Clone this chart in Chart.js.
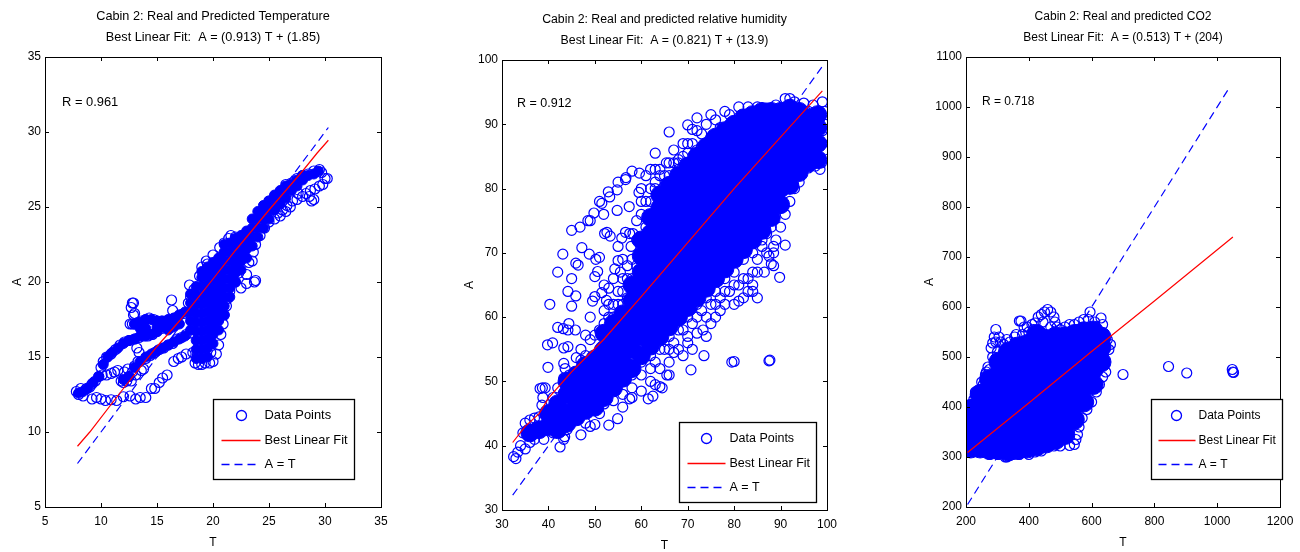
<!DOCTYPE html>
<html>
<head>
<meta charset="utf-8">
<script src="https://cdn.jsdelivr.net/npm/chart.js@4"></script>
<style>
html, body { margin: 0; background: #fff; overflow: hidden; width: 1300px; height: 552px; }
.panel { position: absolute; }
</style>
</head>
<body>
<div class="panel" style="left:0;top:0;width:426px;height:552px"><canvas id="tempChart"></canvas></div>
<div class="panel" style="left:440px;top:3px;width:449px;height:552px"><canvas id="humChart"></canvas></div>
<div class="panel" style="left:918px;top:0;width:410px;height:552px"><canvas id="co2Chart"></canvas></div>
<script>
const legendLabels = ['Data Points', 'Best Linear Fit', 'A = T'];

// Temperature panel
const tempTitle = ['Cabin 2: Real and Predicted Temperature', 'Best Linear Fit:  A = (0.913) T + (1.85)'];
const tempR = 'R = 0.961';
const tempXTicks = [5, 10, 15, 20, 25, 30, 35];
const tempYTicks = [5, 10, 15, 20, 25, 30, 35];
const tempFitLine = [[7.9, 9.05], [9, 10], [12, 12.9], [15, 15.7], [17, 17.4], [20, 20.2], [22, 22.1], [25, 24.8], [28, 27.4], [29.3, 28.6], [30.3, 29.45]];
const tempIdentity = [[7.9, 7.9], [30.3, 30.3]];
const tempOpen = [
  [7.8,12.7],[8,12.5],[8.2,12.9],[8.4,12.4],[8.7,12.9],[9,13],[9.2,13.2],[9.5,13.4],[9.8,13.7],[10.1,13.8],[10.5,13.8],[10.9,13.9],[11.2,14],[11.5,14.1],
  [9.2,12.2],[9.6,12.3],[10,12.2],[10.4,12.1],[10.9,12.15],[11.4,12.1],[12,12.35],[12.6,12.4],[13.1,12.2],[13.5,12.3],[14,12.3],[14.5,12.9],[14.8,12.9],[15.2,13.3],[15.5,13.6],[15.9,13.8],[16.5,14.7],[16.9,14.9],[17.2,15],[17.6,15.2],[18.2,15.3],
  [18.4,14.6],[18.7,14.5],[19,14.5],[19.3,14.6],[19.7,14.6],[20,14.7],[20.3,15.2],[18.6,15.1],[19.2,15.2],[19.8,15.3],
  [11.8,13.4],[12,13.3],[12.3,13.4],[12.5,13.7],[12.8,14],[13,14.4],[13.3,14.7],[13.6,14.1],[13.8,14.2],[14,14.9],[14.4,15.1],[14.8,15.3],[15.2,15.5],[15.6,15.6],[16,15.8],[16.4,15.9],[16.8,16.2],[17.2,16.3],[17.6,16.5],[18,16.6],
  [10,14.3],[10.2,14.7],[10.5,15],[10.9,15.2],[11.3,15.5],[11.7,15.8],[12.1,16],[12.5,16.1],[13,16.2],[13.4,16.3],[13.8,16.4],[14.2,16.4],[14.6,16.5],[15,16.7],[15.4,16.9],[15.8,17.1],[13.2,15.6],[13.4,15.3],
  [12.6,17.2],[12.8,17.2],[13,17.2],[13.3,17.3],[13.6,17.4],[14,17.5],[14.3,17.6],[14.7,17.5],[15,17.4],[15.4,17.4],[15.8,17.4],[16.2,17.5],[16.6,17.6],[17,17.8],[17.4,17.9],
  [12.8,18.6],[12.9,18.6],[12.7,18.3],[12.9,17.8],[13,17.9],[16.3,18.8],[16.4,18.1],
  [17.8,18.6],[18,19],[17.9,19.8],[18.3,19.5],[18.8,20.4],[19,21],[19.4,21.4],[19.5,21.2],[20,21.8],[20.6,22.3],[21,22.6],[21.4,22.9],[21.6,23.1],[22,23],
  [20.5,15.8],[20.7,16.5],[20.9,17.2],[21,17.8],[21.2,18.4],[21.3,18.9],[21.5,19.4],[22,20],[22.3,20.6],[22.5,19.6],[23,19.9],[23.7,20],[23.8,20.1],[23.5,21.4],[23.2,21.3],[23,20.5],[23.6,22],[23.8,22.5],
  [24.2,23.1],[24.6,23.6],[25,24],[25.5,24.2],[26,24.4],[26.5,24.7],[26.9,25],[25,25.4],[25.5,25.7],[26,26],[26.5,26.5],[27,26.6],[27.5,26.9],[28,27.1],[28.5,27.2],[29,27.4],[29.5,27.5],[29.7,27.3],
  [27.5,25.5],[28,25.7],[28.3,25.9],[28.6,25.7],[28.8,25.4],[29,25.5],[28.7,26.1],[29.1,26.2],[29.5,26.4],[29.8,26.5],[30,26.9],[30.2,26.9],
  [12.1,14],[12.4,14.2],[12.7,13.4],[13.1,13.8],[25.8,24.6],[26.2,24.8],[26.6,25.1],[27.1,25.4],[27.6,25.9]
];
const tempCore = [
  [8,12.6],[8.4,12.7],[8.8,12.9],[9.3,13.3],[9.8,13.7],
  [12,13.5],[12.5,13.7],[13,14.3],[13.5,14.7],[14,15],[14.5,15.2],[15,15.4],[15.5,15.6],[16,15.8],[16.5,16],[17,16.2],[17.5,16.4],
  [10.2,14.5],[10.6,15],[11,15.3],[11.5,15.6],[12,15.9],[12.5,16.1],[13,16.2],[13.5,16.4],[14,16.4],[14.5,16.5],[15,16.7],[15.5,17],[16,17.2],
  [13,17.2],[13.5,17.3],[14,17.5],[14.5,17.5],[15,17.4],[15.5,17.4],[16,17.5],[16.5,17.6],[17,17.8],[17.5,18],
  [13.5,16.9],[14,16.9],[15,17],[16,16.8],[16.5,17],[17,17.2],
  [18,16.8],[18,17.4],[18,18],[18,18.6],[18,19.2],
  [18.5,14.9],[18.5,15.5],[18.5,16.1],[18.5,16.7],[18.5,17.3],[18.5,17.9],[18.5,18.5],[18.5,19.1],[18.5,19.7],
  [19,14.9],[19,15.5],[19,16.1],[19,16.7],[19,17.3],[19,17.9],[19,18.5],[19,19.1],[19,19.7],[19,20.3],[19,20.7],
  [19.5,15],[19.5,15.6],[19.5,16.2],[19.5,16.8],[19.5,17.4],[19.5,18],[19.5,18.6],[19.5,19.2],[19.5,19.8],[19.5,20.4],[19.5,21],
  [20,15.9],[20,16.5],[20,17.1],[20,17.7],[20,18.3],[20,18.9],[20,19.5],[20,20.1],[20,20.7],[20,21.3],
  [20.5,16.8],[20.5,17.4],[20.5,18],[20.5,18.6],[20.5,19.2],[20.5,19.8],[20.5,20.4],[20.5,21],[20.5,21.6],
  [21,17.8],[21,18.4],[21,19],[21,19.6],[21,20.2],[21,20.8],[21,21.4],[21,22],[21,22.5],
  [21.5,19],[21.5,19.6],[21.5,20.2],[21.5,20.8],[21.5,21.4],[21.5,22],[21.5,22.6],
  [22,20],[22,20.6],[22,21.2],[22,21.8],[22,22.4],[22,22.9],
  [22.5,20.8],[22.5,21.4],[22.5,22],[22.5,22.6],[22.5,23.1],
  [23,21.6],[23,22.2],[23,22.8],[23,23.4],[23.5,22.4],[23.5,23],[23.5,23.6],[23.5,24.2],
  [24,23],[24,23.6],[24,24.2],[24,24.7],[24.5,23.6],[24.5,24.2],[24.5,24.8],[24.5,25.1],
  [25,24.2],[25,24.8],[25,25.4],[25.5,24.8],[25.5,25.4],[25.5,25.8],[26,25.2],[26,25.7],[26,26.1],
  [26.5,25.6],[26.5,26.1],[26.5,26.4],[27,26.1],[27,26.5],[27.5,26.4],[27.5,26.8],[28,26.8],[28,27.1],[28.5,27.1],[29,27.2],[29.4,27.4]
];

// Relative humidity panel
const humTitle = ['Cabin 2: Real and predicted relative humidity', 'Best Linear Fit:  A = (0.821) T + (13.9)'];
const humR = 'R = 0.912';
const humXTicks = [30, 40, 50, 60, 70, 80, 90, 100];
const humYTicks = [30, 40, 50, 60, 70, 80, 90, 100];
const humFitLine = [[32.3, 40.5], [35, 43], [38, 45], [40, 47.4], [45, 51.5], [52, 56.6], [60, 63.2], [70, 71.6], [80, 80], [90, 88], [99, 95.2]];
const humIdentity = [[32.3, 32.3], [99.5, 99.5]];
const humOpen = [
  [40.3,62],[39.8,55.7],[40.9,56],[39.9,52.2],[42,58.4],[43.2,58.2],[44.4,59],[44.2,58],[45.8,58],[43.3,55.2],[44.2,55.4],[43.3,52.8],[43.6,52],[42,67],[43.1,69.8],[44.2,64],[45,66],[45.9,68.4],[46.4,68.1],[45,61.7],[45.9,63.3],[45,73.5],[46.8,74],[47.2,70.8],[48.5,75],[49,75],[48.8,69.8],[50.2,69],[51,69.3],[50,66.3],[50.6,67.1],[49.8,76.2],[51,78],[51.5,77.7],[51.9,76],[52.1,73],[52.6,73.2],[53.3,72.6],[52.9,79.5],[53.2,78.7],[54.8,79.8],[55,81],[54.8,76.6],[56.6,81.4],[56.7,81.7],[57.4,77.2],[58,82.7],[59.6,82.4],[59.5,79.4],[61,82],[62,83],[63,85.5],[60,76],[61,74],[66,88.8],[65.4,84],[55.8,72.3],[56.6,73.2],[57.5,73],[57.8,71],[58.2,73],[55,68.8],[55.5,67],[54,66],[54.3,67.5],[53,64.5],[52.5,62.6],[51.5,63.8],[52,61],[49.5,62.5],[49,60],[50,63.2],[48,57.2],[49,56.5],[50,57.2],[47,55],[48,54],[46,53.7],[47,53.3],
  [32.5,38.3],[33,38],[33.4,39],[34,40],[35,39.5],[36,40.5],[34.5,42],[35,43.5],[36,44],[37,44.3],[38,44.5],[38.2,48.9],[38.7,49],[39.3,49],[38.8,47.5],[38.6,46.3],[41,47.5],[42,49],[43.3,50.5],[44.5,51],[46,51.5],[47,52],
  [42.5,39.8],[43.3,41],[43.5,41.4],[47,41.7],[49,43],[50,43.3],[53,43.2],[54.9,44.2],[56,46],[57.5,47.3],[58,47.5],[61.5,47.3],[62.5,47.7],[63,49.5],[64,49.2],[64.5,49],[65.5,51],[66,51],[68,55],[70.7,51.8],[71,55],[72,57.5],[73.5,54],[73.3,58],[75,59],[77,61],[78,62],[79.5,53],[80,53.1],[87.5,53.2],[87.7,53.3],[81,62.5],[83,64],[84,64],[85,63],[86.5,67],[88,68.3],[88.5,68],[87.5,69.5],[88.5,70],[89.8,66.2],[91,71.2],[88.5,71],[90,74],[91,76],[92,78],[93,80],[94,81],[95,83],[96,83.2],[97.5,83.5],[98.5,83],[98.8,84],
  [70,89.9],[71,89.2],[72,89],[73,88.5],[74,90],[72,91],[75,91.5],[76,90.7],[78,92],[79,91.5],[81,92.7],[83,92.7],[85,92.7],[87,92.5],[89,93],[91,94],[92,94],[93,93.5],[95,93.3],[97,93],[99,93.5],[99.5,92],[99.6,90],[99.7,88],[99.5,86],[66,84],[67,84],[68,84.5],[69,85],[70,85.5],
  [37,41],[39,41],[41,42],[44,42.5],[46,44],[48,43.5],[51,45],[52,46.5],[54,47],[56,48],[58,49],[60,48.5],[60,51],[62,50],[64,52],[66,53],[67,54.5],[69,54],[70,57],[72,60],[74,60],[76,62],[78,64],[80,65],[82,66],[84,67],[85,69],[86,71],[87,73],
  [54,51],[56,53],[58,56],[59,60],[59,64],[59,68],[59,72],[60,70],[62,78],[63,80],[64,82],[66,82],[68,83],[70,84],[72,86],[74,87],[76,88],[78,89],[80,90],[82,91],[84,91.5],[86,92],[88,92],[90,92.5],[93,92],[96,92],[98,91],[99,89],[99,87],
  [50,52],[51,55],[51,58],[52,59],[53,57],[53,60],[54,60],[54,62],[55,60],[55,62],[55,64],[56,62],[56,64],[56,66],[57,63],[57,66],[57,68],[58,64],[58,66],[58,69],[53,62],[52,65],[55,71],[56,69],[59,75],[60,78],[60,80],[61,78],[62,80],[63,81],[64,83],[63,83],[65,82],[67,86],[68,84],[69,87],[70,87],[71,87],[73,86.5],[75,88],[77,89.5],[79,90],
  [60,53],[62,54],[64,55],[66,57],[68,58],[70,60],[72,62],[74,63],[76,64],[78,66],[80,67],[82,69],[84,70],[86,72],[88,74],[90,77],[92,80],[94,83],[96,85],[63,53],[65,55],[67,56],[69,58],[71,59],[73,61],[75,62],[77,63],[79,64],[81,65],[83,66],[85,67],[87,70],[89,72],[84,65],[82,63],[80,62],[76,60],[74,57],[70,56],[66,55],[62,52],[58,51],[56,50],[54,49],[52,48],[50,48],[48,46],[46,46],[44,44]
];
const humCore = [
  [36,42],[38,42.5],[40,43],[40,45],[42,42.5],[42,44],[42,46.5],[44,43.5],[44,45],[44,48],[44,50],[46,44.5],[46,46.5],[46,49],[46,51],[48,45.5],[48,47.5],[48,50],[48,52.5],[50,46],[50,48.5],[50,51],[50,53.5],[52,47.5],[52,50],[52,52.5],[52,55],[52,57.5],[54,49],[54,51.5],[54,54],[54,56.5],[54,59],[56,50.5],[56,53],[56,55.5],[56,58],[56,60.5],[58,52],[58,55],[58,57.5],[58,60],[58,62.5],[58,65],[60,54],[60,57],[60,59.5],[60,62],[60,64.5],[60,67],[60,69.5],[60,72],[62,55.5],[62,58],[62,60.5],[62,63],[62,65.5],[62,68],[62,70.5],[62,73],[62,75.5],[64,57],[64,59.5],[64,62],[64,64.5],[64,67],[64,69.5],[64,72],[64,74.5],[64,77],[64,79],[66,58.5],[66,61],[66,63.5],[66,66],[66,68.5],[66,71],[66,73.5],[66,76],[66,78.5],[66,80.5],[68,60],[68,62.5],[68,65],[68,67.5],[68,70],[68,72.5],[68,75],[68,77.5],[68,80],[68,82],[70,61.5],[70,64],[70,66.5],[70,69],[70,71.5],[70,74],[70,76.5],[70,79],[70,81.5],[70,83.5],[72,63],[72,65.5],[72,68],[72,70.5],[72,73],[72,75.5],[72,78],[72,80.5],[72,83],[72,85],[74,64.5],[74,67],[74,69.5],[74,72],[74,74.5],[74,77],[74,79.5],[74,82],[74,84.5],[74,86.5],[76,66],[76,68.5],[76,71],[76,73.5],[76,76],[76,78.5],[76,81],[76,83.5],[76,86],[76,88],[78,67.5],[78,70],[78,72.5],[78,75],[78,77.5],[78,80],[78,82.5],[78,85],[78,87.5],[78,89],[80,69],[80,71.5],[80,74],[80,76.5],[80,79],[80,81.5],[80,84],[80,86.5],[80,88.5],[80,90],[82,70.5],[82,73],[82,75.5],[82,78],[82,80.5],[82,83],[82,85.5],[82,88],[82,90],[82,91],[84,72],[84,74.5],[84,77],[84,79.5],[84,82],[84,84.5],[84,87],[84,89.5],[84,91.5],[86,73.5],[86,76],[86,78.5],[86,81],[86,83.5],[86,86],[86,88.5],[86,90.5],[86,92],[88,75.5],[88,78],[88,80.5],[88,83],[88,85.5],[88,88],[88,90.5],[88,92],[90,77.5],[90,80],[90,82.5],[90,85],[90,87.5],[90,90],[90,92],[92,80.5],[92,83],[92,85.5],[92,88],[92,90.5],[92,92.5],[94,82.5],[94,85],[94,87.5],[94,90],[94,92],[96,84],[96,86.5],[96,89],[96,91],[98,84.5],[98,87],[98,89.5],[98,91.5]
];

// CO2 panel
const co2Title = ['Cabin 2: Real and predicted CO2', 'Best Linear Fit:  A = (0.513) T + (204)'];
const co2R = 'R = 0.718';
const co2XTicks = [200, 400, 600, 800, 1000, 1200];
const co2YTicks = [200, 300, 400, 500, 600, 700, 800, 900, 1000, 1100];
const co2FitLine = [[205, 309], [400, 408], [600, 511], [800, 612], [1050, 740]];
const co2Identity = [[205, 205], [1040, 1040]];
const co2Open = [
  [205,400],[207,370],[205,340],[208,325],[215,312],[225,415],[235,425],[245,435],[255,445],[262,465],[270,480],[275,475],[280,518],[285,528],[290,540],[295,555],[300,510],[310,530],[320,525],[340,530],[355,540],[370,572],[375,572],[385,560],[395,560],[410,565],[420,568],[430,580],[440,585],[450,590],[460,595],[470,590],[480,580],[483,570],[470,560],[500,555],[515,560],[530,565],[545,565],[560,570],[575,575],[595,590],[590,575],[610,570],[630,578],[635,565],[640,545],[650,535],[660,525],[655,515],[640,515],[620,510],
  [640,485],[700,465],[845,481],[903,468],[1048,475],[1050,470],[1052,469],
  [530,323],[545,325],[550,335],[555,345],[500,322],[480,322],[460,322],[560,360],[570,378],[585,395],[600,410],[615,430],[625,445],[635,460],[645,470],[440,312],[420,310],[400,305],[370,305],[350,305],[330,300],[325,300],[300,305],[275,305],[250,312],[230,318],[210,315],
  [215,405],[230,430],[250,450],[265,470],[285,500],[295,530],[305,540],[330,535],[345,520],[360,545],[380,545],[400,550],[415,555],[445,570],[490,560],[520,550],[550,555],[580,560],[600,555],[625,550]
];
const co2Core = [
  [215,318],[215,345],[215,375],[215,395],[245,318],[245,345],[245,375],[245,405],[245,425],[275,315],[275,345],[275,375],[275,405],[275,435],[275,455],[305,315],[305,345],[305,375],[305,405],[305,435],[305,465],[305,490],[335,312],[335,345],[335,375],[335,405],[335,435],[335,465],[335,495],[335,510],[365,315],[365,345],[365,375],[365,405],[365,435],[365,465],[365,495],[365,520],[395,318],[395,345],[395,375],[395,405],[395,435],[395,465],[395,495],[395,525],[425,322],[425,350],[425,380],[425,410],[425,440],[425,470],[425,500],[425,530],[425,545],[455,328],[455,355],[455,385],[455,415],[455,445],[455,475],[455,505],[455,535],[485,335],[485,360],[485,390],[485,420],[485,450],[485,480],[485,510],[485,540],[515,345],[515,370],[515,400],[515,430],[515,460],[515,490],[515,520],[515,540],[545,375],[545,405],[545,435],[545,465],[545,495],[545,525],[545,545],[575,410],[575,440],[575,470],[575,500],[575,530],[575,550],[605,445],[605,475],[605,505],[605,535],[605,552],[630,490],[630,520],[630,540]
];

const blue = '#0000ff';
const red = '#ff0000';
const fontFamily = "'Liberation Sans', Arial, sans-serif";
const tickFont = { family: fontFamily, size: 12 };

function toPoints(pairs) {
    return pairs.map(p => ({ x: p[0], y: p[1] }));
}

// MATLAB style box: frame, ticks pointing in on all four sides, R text and legend box
const matlabBox = {
    id: 'matlabBox',
    afterLayout(chart) {
        // centre the title over the plot box, not over the padded canvas
        chart.titleBlock.left = chart.chartArea.left;
        chart.titleBlock.right = chart.chartArea.right;
    },
    afterDraw(chart, args, opts) {
        const ctx = chart.ctx;
        const a = chart.chartArea;
        const xs = chart.scales.x;
        const ys = chart.scales.y;
        ctx.save();
        ctx.strokeStyle = '#000';
        ctx.lineWidth = 1;
        ctx.strokeRect(a.left + 0.5, a.top + 0.5, a.right - a.left, a.bottom - a.top);
        ctx.beginPath();
        xs.ticks.forEach((t, i) => {
            const px = Math.round(xs.getPixelForTick(i)) + 0.5;
            ctx.moveTo(px, a.bottom); ctx.lineTo(px, a.bottom - 4);
            ctx.moveTo(px, a.top); ctx.lineTo(px, a.top + 4);
        });
        ys.ticks.forEach((t, i) => {
            const py = Math.round(ys.getPixelForTick(i)) + 0.5;
            ctx.moveTo(a.left, py); ctx.lineTo(a.left + 4, py);
            ctx.moveTo(a.right, py); ctx.lineTo(a.right - 4, py);
        });
        ctx.stroke();

        ctx.fillStyle = '#000';
        ctx.font = `${opts.noteSize}px ${fontFamily}`;
        ctx.textBaseline = 'middle';
        ctx.textAlign = 'left';
        ctx.fillText(opts.rText, a.left + opts.rPos[0], a.top + opts.rPos[1]);

        // legend
        const b = opts.legend;
        const bx = Math.round(a.left + b.left) + 0.5;
        const by = Math.round(a.top + b.top) + 0.5;
        ctx.fillStyle = '#fff';
        ctx.fillRect(bx, by, b.width, b.height);
        ctx.lineWidth = 1.3;
        ctx.strokeRect(bx, by, b.width, b.height);
        const rows = [16, 41, 65];
        ctx.strokeStyle = blue;
        ctx.beginPath();
        ctx.arc(bx + b.marker, by + rows[0], 5, 0, Math.PI * 2);
        ctx.stroke();
        ctx.strokeStyle = red;
        ctx.beginPath();
        ctx.moveTo(bx + b.line[0], by + rows[1]);
        ctx.lineTo(bx + b.line[1], by + rows[1]);
        ctx.stroke();
        ctx.strokeStyle = blue;
        ctx.setLineDash([8, 5]);
        ctx.beginPath();
        ctx.moveTo(bx + b.line[0], by + rows[2]);
        ctx.lineTo(bx + b.line[1], by + rows[2]);
        ctx.stroke();
        ctx.setLineDash([]);
        ctx.fillStyle = '#000';
        legendLabels.forEach((label, i) => ctx.fillText(label, bx + b.text, by + rows[i]));
        ctx.restore();
    }
};

function drawPanel(canvasId, cfg) {
    const ctx = document.getElementById(canvasId).getContext('2d');
    new Chart(ctx, {
        type: 'scatter',
        data: {
            datasets: [
                { label: 'Best Linear Fit', data: toPoints(cfg.fit), showLine: true, borderColor: red, borderWidth: 1.2, pointRadius: 0, order: 1 },
                { label: 'Data Points', data: toPoints(cfg.open), borderColor: blue, backgroundColor: 'transparent', borderWidth: 1.2, pointRadius: 5, order: 2 },
                { label: 'Data Points (dense)', data: toPoints(cfg.core), borderColor: blue, backgroundColor: blue, borderWidth: 1, pointRadius: cfg.coreRadius, order: 3 },
                { label: 'A = T', data: toPoints(cfg.identity), showLine: true, borderColor: blue, borderWidth: 1.2, borderDash: [8, 5], pointRadius: 0, order: 4 }
            ]
        },
        options: {
            responsive: false,
            animation: false,
            layout: { autoPadding: false, padding: { left: cfg.padLeft, right: cfg.padRight, top: 0, bottom: 2 } },
            plugins: {
                legend: { display: false },
                tooltip: { enabled: false },
                title: {
                    display: true,
                    text: cfg.title,
                    color: '#000',
                    font: { family: fontFamily, size: cfg.titleSize, weight: 'normal', lineHeight: 21 / cfg.titleSize },
                    padding: { top: 6, bottom: 9 }
                },
                matlabBox: { rText: cfg.rText, rPos: cfg.rPos, legend: cfg.legend, noteSize: cfg.noteSize }
            },
            scales: {
                x: {
                    type: 'linear',
                    min: cfg.xTicks[0],
                    max: cfg.xTicks[cfg.xTicks.length - 1],
                    afterBuildTicks: s => { s.ticks = cfg.xTicks.map(v => ({ value: v })); },
                    afterFit: s => { s.height = 43; },
                    grid: { display: false, drawTicks: false },
                    border: { display: false },
                    ticks: { color: '#000', font: tickFont, padding: 7, maxRotation: 0, autoSkip: false, callback: v => String(v) },
                    title: { display: true, text: 'T', color: '#000', font: tickFont, padding: 0 }
                },
                y: {
                    type: 'linear',
                    min: cfg.yTicks[0],
                    max: cfg.yTicks[cfg.yTicks.length - 1],
                    afterBuildTicks: s => { s.ticks = cfg.yTicks.map(v => ({ value: v })); },
                    afterFit: s => { s.width = cfg.yWidth; },
                    grid: { display: false, drawTicks: false },
                    border: { display: false },
                    ticks: { color: '#000', font: tickFont, padding: 4, autoSkip: false, callback: v => String(v) },
                    title: { display: true, text: 'A', color: '#000', font: tickFont, padding: 0 }
                }
            }
        },
        plugins: [matlabBox]
    });
}

function sizeCanvas(id) {
    const c = document.getElementById(id);
    c.width = c.parentElement.offsetWidth;
    c.height = c.parentElement.offsetHeight;
}
['tempChart', 'humChart', 'co2Chart'].forEach(sizeCanvas);

drawPanel('tempChart', {
    title: tempTitle, rText: tempR, rPos: [17, 45], xTicks: tempXTicks, yTicks: tempYTicks,
    fit: tempFitLine, identity: tempIdentity, open: tempOpen, core: tempCore, coreRadius: 5,
    titleSize: 12.7, noteSize: 12.9,
    padLeft: 10, padRight: 45, yWidth: 35,
    legend: { left: 168, top: 342, width: 141, height: 80, marker: 28, line: [8, 47], text: 51 }
});
drawPanel('humChart', {
    title: humTitle, rText: humR, rPos: [15, 44], xTicks: humXTicks, yTicks: humYTicks,
    fit: humFitLine, identity: humIdentity, open: humOpen, core: humCore, coreRadius: 9,
    titleSize: 12.3, noteSize: 12.5,
    padLeft: 22, padRight: 62, yWidth: 40,
    legend: { left: 177, top: 362, width: 137, height: 80, marker: 27, line: [8, 46], text: 50 }
});
drawPanel('co2Chart', {
    title: co2Title, rText: co2R, rPos: [16, 45], xTicks: co2XTicks, yTicks: co2YTicks,
    fit: co2FitLine, identity: co2Identity, open: co2Open, core: co2Core, coreRadius: 10,
    titleSize: 12, noteSize: 12,
    padLeft: 4, padRight: 48, yWidth: 44,
    legend: { left: 185, top: 342, width: 131, height: 80, marker: 25, line: [7, 44], text: 47 }
});
</script>
</body>
</html>
